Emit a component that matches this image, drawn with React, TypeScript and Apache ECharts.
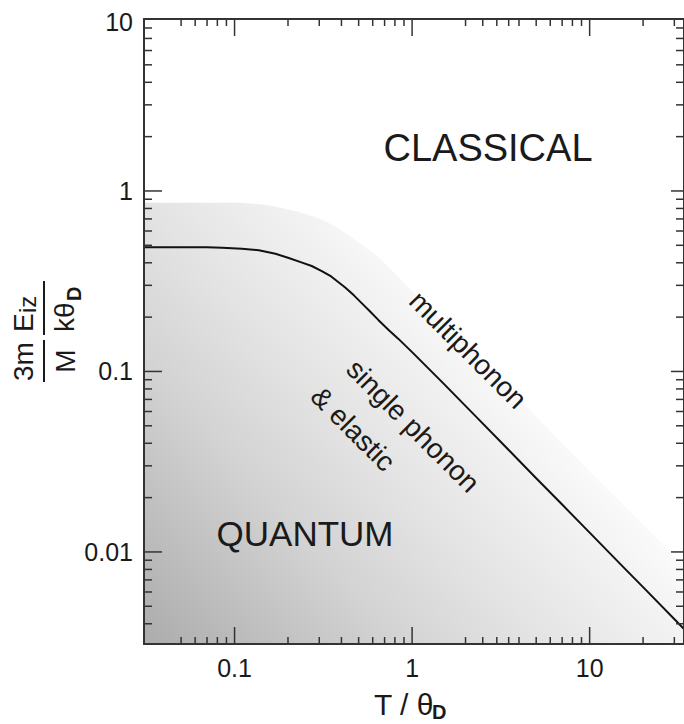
import React, { useEffect, useRef } from 'react';
import * as echarts from 'echarts';

// Axis ranges (log scales)
const X_MIN = 0.0309;
const X_MAX = 34;
const Y_MIN = 0.00309;
const Y_MAX = 8.97;

// Tick values and labels
const xMajorTicks = [0.1, 1, 10];
const xTickLabels = ['0.1', '1', '10'];
const xMinorTicks = [0.05, 0.06, 0.07, 0.08, 0.09, 0.2, 0.3, 0.4, 0.5, 0.6, 0.7, 0.8, 0.9, 2, 2.5, 3, 3.5, 4, 5, 6, 7, 8, 9, 20, 30];
const yMajorTicks = [0.01, 0.1, 1];
const yTickLabels = ['0.01', '0.1', '1'];
const yTopLabel = '10';
const yMinorTicks = [0.004, 0.005, 0.006, 0.007, 0.008, 0.009, 0.02, 0.03, 0.04, 0.05, 0.06, 0.07, 0.08, 0.09, 0.2, 0.3, 0.4, 0.5, 0.6, 0.7, 0.8, 0.9, 2, 3, 4, 5, 6, 7, 8];

// Boundary curve: T/θD vs 3m/M · Eiz/kθD
const curveT = [0.0309, 0.05, 0.07, 0.085, 0.11, 0.137, 0.17, 0.202, 0.24, 0.272, 0.31, 0.35, 0.42, 0.47, 0.52, 0.58, 0.645, 0.74, 0.835, 1, 1.5, 2.35, 3.5, 5, 7, 10, 15, 20, 34];
const curveE = [0.488, 0.488, 0.487, 0.485, 0.479, 0.469, 0.449, 0.425, 0.401, 0.384, 0.36, 0.336, 0.292, 0.264, 0.239, 0.215, 0.193, 0.169, 0.152, 0.128, 0.0859, 0.0548, 0.0367, 0.0256, 0.0183, 0.0128, 0.00851, 0.00638, 0.00374];

// Upper edge of the shaded (quantum) region
const shadeT = [0.0309, 0.1, 0.15, 0.2, 0.27, 0.34, 0.45, 0.645, 1, 2, 5.3, 10, 20, 34];
const shadeE = [0.86, 0.86, 0.835, 0.79, 0.73, 0.665, 0.56, 0.43, 0.28, 0.143, 0.053, 0.028, 0.0142, 0.0084];

const FONT = '"Liberation Sans", Arial, Helvetica, sans-serif';
const INK = '#1a1a1a';
const AXIS = '#333333';

const labelFmt = (ticks: number[], labels: string[]) => (v: number) => {
  const i = ticks.findIndex((t) => Math.abs(Math.log10(t) - Math.log10(v)) < 1e-6);
  return i >= 0 ? labels[i] : '';
};

const txt = (text: string, size: number, opts: any = {}) => ({
  text,
  font: `${opts.weight || 'normal'} ${size}px ${FONT}`,
  fontSize: size,
  fontFamily: FONT,
  fontWeight: opts.weight || 'normal',
  fill: INK,
  align: opts.align || 'center',
  textAlign: opts.align || 'center',
  verticalAlign: 'middle',
  textVerticalAlign: 'middle',
});

export default function App() {
  const ref = useRef<HTMLDivElement>(null);

  useEffect(() => {
    if (!ref.current) return;
    const chart = echarts.init(ref.current, undefined, { renderer: 'svg' });

    const tickData: number[][] = [
      ...xMajorTicks.map((v) => [v, Y_MIN, 0]),
      ...xMinorTicks.map((v) => [v, Y_MIN, 1]),
      ...yMajorTicks.map((v) => [X_MIN, v, 2]),
      ...yMinorTicks.map((v) => [X_MIN, v, 3]),
    ];

    const axisCommon = {
      type: 'log',
      logBase: 10,
      axisLine: { show: true, onZero: false, lineStyle: { color: AXIS, width: 2 } },
      axisTick: { show: false },
      minorTick: { show: false },
      splitLine: { show: false },
      minorSplitLine: { show: false },
      z: 5,
    };

    chart.setOption({
      animation: false,
      backgroundColor: '#ffffff',
      grid: { left: 144, top: 19, width: 543, height: 625, containLabel: false },
      xAxis: [
        {
          ...axisCommon,
          min: X_MIN,
          max: X_MAX,
          position: 'bottom',
          axisLabel: {
            formatter: labelFmt(xMajorTicks, xTickLabels),
            fontSize: 25,
            fontFamily: FONT,
            color: INK,
            margin: 11,
            showMinLabel: false,
            showMaxLabel: false,
          },
        },
        { ...axisCommon, min: X_MIN, max: X_MAX, position: 'top', axisLabel: { show: false } },
      ],
      yAxis: [
        {
          ...axisCommon,
          min: Y_MIN,
          max: Y_MAX,
          position: 'left',
          axisLabel: {
            formatter: labelFmt(yMajorTicks, yTickLabels),
            fontSize: 25,
            fontFamily: FONT,
            color: INK,
            margin: 11,
            padding: [10, 0, 0, 0],
            showMinLabel: false,
            showMaxLabel: false,
          },
        },
        { ...axisCommon, min: Y_MIN, max: Y_MAX, position: 'right', axisLabel: { show: false } },
      ],
      series: [
        {
          type: 'line',
          data: shadeT.map((t, i) => [t, shadeE[i]]),
          showSymbol: false,
          smooth: 0.3,
          lineStyle: { width: 0, opacity: 0 },
          areaStyle: {
            origin: 'start',
            opacity: 1,
            color: new echarts.graphic.LinearGradient(144, 644, 620, 220, [
              { offset: 0, color: '#acacac' },
              { offset: 0.3, color: '#d3d3d3' },
              { offset: 0.46, color: '#e3e3e3' },
              { offset: 0.63, color: '#f2f2f2' },
              { offset: 0.72, color: '#fbfbfb' },
              { offset: 0.8, color: '#ffffff' },
              { offset: 1, color: '#ffffff' },
            ], true),
          },
          silent: true,
          z: 1,
        },
        {
          type: 'line',
          data: curveT.map((t, i) => [t, curveE[i]]),
          showSymbol: false,
          smooth: false,
          lineStyle: { color: '#111111', width: 2, join: 'round' },
          silent: true,
          z: 3,
        },
        {
          type: 'custom',
          data: tickData,
          silent: true,
          z: 6,
          renderItem: (params: any, api: any) => {
            const kind = api.value(2);
            const p = api.coord([api.value(0), api.value(1)]);
            const cs = params.coordSys;
            const style = { stroke: AXIS, lineWidth: 1.5 };
            if (kind < 2) {
              const len = kind === 0 ? 17 : 7;
              const b = cs.y + cs.height;
              return {
                type: 'group',
                children: [
                  { type: 'line', shape: { x1: p[0], y1: b, x2: p[0], y2: b - len }, style },
                  { type: 'line', shape: { x1: p[0], y1: cs.y, x2: p[0], y2: cs.y + len }, style },
                ],
              };
            }
            const lenL = kind === 2 ? 18 : 8;
            const lenR = kind === 2 ? 13 : 8;
            const r = cs.x + cs.width;
            return {
              type: 'group',
              children: [
                { type: 'line', shape: { x1: cs.x, y1: p[1], x2: cs.x + lenL, y2: p[1] }, style },
                { type: 'line', shape: { x1: r, y1: p[1], x2: r - lenR, y2: p[1] }, style },
              ],
            };
          },
        },
      ],
    });

    const topLeft = chart.convertToPixel({ xAxisIndex: 0, yAxisIndex: 0 }, [X_MIN, Y_MAX]) as number[];

    chart.setOption({
      graphic: [
        // "10" label at the top of the y axis
        { type: 'text', x: topLeft[0] - 11, y: topLeft[1] + 3, style: txt(yTopLabel, 25, { align: 'right' }), z: 10 },
        // Region labels
        { type: 'text', x: 488, y: 148, style: txt('CLASSICAL', 38), z: 10 },
        { type: 'text', x: 305, y: 533, style: txt('QUANTUM', 35), z: 10 },
        { type: 'text', x: 468, y: 350, rotation: -Math.PI / 4, style: txt('multiphonon', 28), z: 10 },
        { type: 'text', x: 413, y: 426, rotation: -Math.PI / 4, style: txt('single phonon', 28), z: 10 },
        { type: 'text', x: 353, y: 429, rotation: -Math.PI / 4, style: txt('& elastic', 28), z: 10 },
        // x-axis title: T / θD
        { type: 'text', x: 374, y: 704, style: txt('T / θ', 30, { align: 'left' }), z: 10 },
        { type: 'text', x: 432, y: 712, style: txt('D', 20, { align: 'left', weight: 'bold' }), z: 10 },
        // y-axis title: (3m/M)(Eiz/kθD), rotated
        {
          type: 'group',
          x: 44,
          y: 332,
          rotation: Math.PI / 2,
          z: 10,
          children: [
            { type: 'text', x: -29.5, y: -21, style: txt('3m', 28) },
            { type: 'text', x: -29, y: 21, style: txt('M', 28) },
            { type: 'line', shape: { x1: -50, y1: 0, x2: -8, y2: 0 }, style: { stroke: INK, lineWidth: 2 } },
            { type: 'text', x: 0, y: -21, style: txt('E', 28, { align: 'left' }) },
            { type: 'text', x: 19, y: -17, style: txt('iz', 24, { align: 'left' }) },
            { type: 'line', shape: { x1: -3, y1: 0, x2: 51, y2: 0 }, style: { stroke: INK, lineWidth: 2 } },
            { type: 'text', x: 0, y: 20, style: txt('kθ', 28, { align: 'left' }) },
            { type: 'text', x: 31, y: 30, style: txt('D', 20, { align: 'left', weight: 'bold' }) },
          ],
        },
      ],
    });

    return () => chart.dispose();
  }, []);

  return (
    <div
      ref={ref}
      style={{ position: 'absolute', left: 0, top: 0, width: 684, height: 724, background: '#fff' }}
    />
  );
}
